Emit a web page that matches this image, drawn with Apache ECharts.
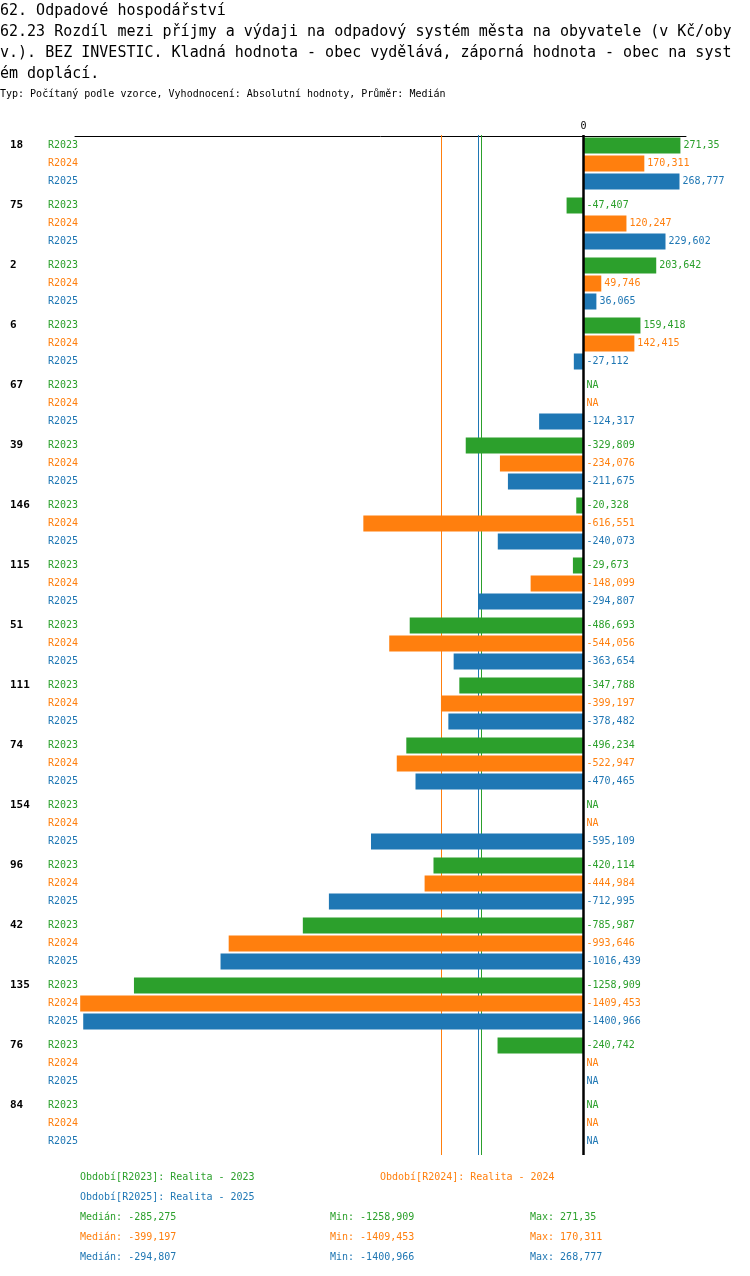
<!DOCTYPE html>
<html lang="cs">
<head>
<meta charset="utf-8">
<title>62.23 Odpadové hospodářství</title>
<script src="https://cdn.jsdelivr.net/npm/echarts@6/dist/echarts.min.js"></script>
<style>
    html, body { margin: 0; padding: 0; background: #fff; }
    #chart { width: 750px; height: 1276px; }
</style>
</head>
<body>
<div id="chart"></div>
<script>
// data (null = NA)
var groups = ['18', '75', '2', '6', '67', '39', '146', '115', '51', '111', '74', '154', '96', '42', '135', '76', '84'];
var periods = ['R2023', 'R2024', 'R2025'];
var colors = ['#2ca02c', '#ff7f0e', '#1f77b4'];
var r2023 = [271.35, -47.407, 203.642, 159.418, null, -329.809, -20.328, -29.673, -486.693, -347.788, -496.234, null, -420.114, -785.987, -1258.909, -240.742, null];
var r2024 = [170.311, 120.247, 49.746, 142.415, null, -234.076, -616.551, -148.099, -544.056, -399.197, -522.947, null, -444.984, -993.646, -1409.453, null, null];
var r2025 = [268.777, 229.602, 36.065, -27.112, -124.317, -211.675, -240.073, -294.807, -363.654, -378.482, -470.465, -595.109, -712.995, -1016.439, -1400.966, null, null];
var medians = [-285.275, -399.197, -294.807];
var mins = [-1258.909, -1409.453, -1400.966];
var maxs = [271.35, 170.311, 268.777];

var mono = 'DejaVu Sans Mono';

function fmt(v) {
    return String(v).replace('.', ',');
}

function barData(arr) {
    return arr.map(function (v) {
        if (v === null) return { value: 0, label: { formatter: 'NA' } };
        return v;
    });
}

var series = [r2023, r2024, r2025].map(function (arr, i) {
    return {
        name: periods[i],
        type: 'bar',
        barWidth: 16,
        barGap: '12.5%',
        itemStyle: { color: colors[i] },
        label: {
            show: true,
            position: 'right',
            distance: 3,
            fontFamily: mono,
            fontSize: 10,
            color: colors[i],
            formatter: function (p) { return fmt(p.value); }
        },
        data: barData(arr),
        // median line, under the bars
        markLine: {
            silent: true,
            symbol: 'none',
            z: 1,
            label: { show: false },
            lineStyle: { color: colors[i], width: 1, type: 'solid', opacity: 1 },
            data: [{ xAxis: medians[i] }]
        }
    };
});

// thick zero line over the bars
series.push({
    type: 'bar',
    data: [],
    markLine: {
        silent: true,
        symbol: 'none',
        z: 10,
        label: { show: false },
        lineStyle: { color: '#000', width: 2.5, type: 'solid' },
        data: [{ xAxis: 0 }]
    }
});

var titleText = [
    '62. Odpadové hospodářství',
    '62.23 Rozdíl mezi příjmy a výdaji na odpadový systém města na obyvatele (v Kč/oby',
    'v.). BEZ INVESTIC. Kladná hodnota - obec vydělává, záporná hodnota - obec na syst',
    'ém doplácí.'
].join('\n');

var bottomTexts = [
    { x: 80, y: 1178, t: 'Období[R2023]: Realita - 2023', c: colors[0] },
    { x: 380, y: 1178, t: 'Období[R2024]: Realita - 2024', c: colors[1] },
    { x: 80, y: 1198, t: 'Období[R2025]: Realita - 2025', c: colors[2] }
];
for (var i = 0; i < 3; i++) {
    var y = 1218 + i * 20;
    bottomTexts.push({ x: 80, y: y, t: 'Medián: ' + fmt(medians[i]), c: colors[i] });
    bottomTexts.push({ x: 330, y: y, t: 'Min: ' + fmt(mins[i]), c: colors[i] });
    bottomTexts.push({ x: 530, y: y, t: 'Max: ' + fmt(maxs[i]), c: colors[i] });
}

var chart = echarts.init(document.getElementById('chart'));
var option = {
    backgroundColor: '#fff',
    animation: false,
    title: [
        {
            text: titleText,
            left: 0, top: 1, padding: 0,
            textStyle: { fontFamily: mono, fontSize: 15, fontWeight: 'normal', color: '#000', lineHeight: 21 }
        },
        {
            text: 'Typ: Počítaný podle vzorce, Vyhodnocení: Absolutní hodnoty, Průměr: Medián',
            left: 0, top: 89, padding: 0,
            textStyle: { fontFamily: mono, fontSize: 10, fontWeight: 'normal', color: '#000' }
        }
    ],
    grid: { left: 75, width: 611, top: 135, height: 1020 },
    xAxis: {
        type: 'value',
        position: 'top',
        offset: -1,
        min: -1424,
        max: 287,
        splitLine: { show: false },
        axisTick: { show: false },
        axisLine: { show: true, lineStyle: { color: '#000', width: 1 } },
        axisLabel: {
            customValues: [0],
            formatter: function () { return '0'; },
            margin: 5,
            fontFamily: mono,
            fontSize: 10,
            color: '#000'
        }
    },
    yAxis: {
        type: 'category',
        inverse: true,
        data: groups,
        axisLine: { show: false },
        axisTick: { show: false },
        splitLine: { show: false },
        axisLabel: {
            interval: 0,
            align: 'left',
            margin: 65,
            padding: [0, 0, 4, 0],
            fontFamily: mono,
            fontSize: 10,
            lineHeight: 18,
            formatter: function (v) {
                return '{n|' + v + '}{a|R2023}\n{s| }{b|R2024}\n{s| }{c|R2025}';
            },
            rich: {
                n: { width: 38, fontFamily: mono, fontSize: 11, fontWeight: 'bold', color: '#000', lineHeight: 18 },
                s: { width: 38, fontFamily: mono, fontSize: 10, lineHeight: 18 },
                a: { fontFamily: mono, fontSize: 10, color: colors[0], lineHeight: 18 },
                b: { fontFamily: mono, fontSize: 10, color: colors[1], lineHeight: 18 },
                c: { fontFamily: mono, fontSize: 10, color: colors[2], lineHeight: 18 }
            }
        }
    },
    graphic: bottomTexts.map(function (b) {
        return {
            type: 'text',
            left: b.x,
            top: b.y - 6,
            style: { text: b.t, fill: b.c, font: '10px "' + mono + '"' }
        };
    }),
    series: series
};
chart.setOption(option);
</script>
</body>
</html>
